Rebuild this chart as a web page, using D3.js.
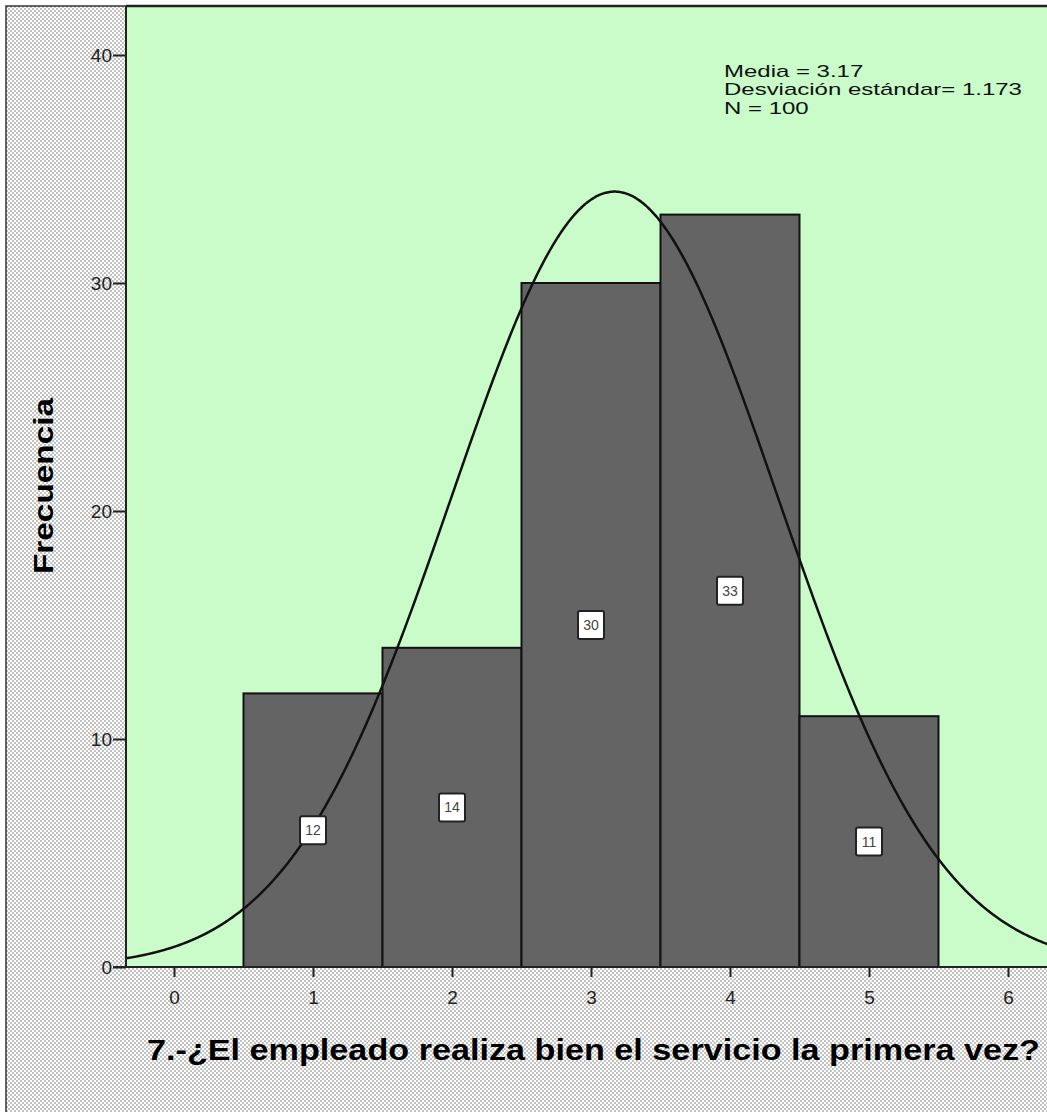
<!DOCTYPE html>
<html>
<head>
<meta charset="utf-8">
<script src="https://cdn.jsdelivr.net/npm/d3@7"></script>
<style>
	html, body { margin: 0; padding: 0; background: #fff; }
	svg { display: block; font-family: "Liberation Sans", Arial, sans-serif; }
</style>
</head>
<body>
<script>
(function() {

"use strict";

// histogram bins (value, frequency)
const BIN_CENTERS = [1, 2, 3, 4, 5];
const FREQUENCIES = [12, 14, 30, 33, 11];
const BIN_WIDTH = 1;

const X_TICKS = [0, 1, 2, 3, 4, 5, 6];
const Y_TICKS = [0, 10, 20, 30, 40];

const MEAN = 3.17;
const STD_DEV = 1.173;
const N = 100;

const STATS = [
	"Media = 3.17",
	"Desviación estándar= 1.173",
	"N = 100",
];

const X_TITLE = "7.-¿El empleado realiza bien el servicio la primera vez?";
const Y_TITLE = "Frecuencia";

const width = 1047, height = 1112;
const plot = {left: 126, top: 6, right: 1047, bottom: 967};

let svg = d3.select(document.body).append("svg")
	.attr("width", width)
	.attr("height", height);

// dotted background pattern
let defs = svg.append("defs");
let pat = defs.append("pattern")
	.attr("id", "dots")
	.attr("width", 4)
	.attr("height", 4)
	.attr("patternUnits", "userSpaceOnUse");
pat.append("rect").attr("width", 4).attr("height", 4).attr("fill", "#ffffff");
pat.append("circle").attr("cx", 1).attr("cy", 1).attr("r", 0.95).attr("fill", "#a9a9a9");
pat.append("circle").attr("cx", 3).attr("cy", 3).attr("r", 0.95).attr("fill", "#a9a9a9");

defs.append("clipPath").attr("id", "plotclip")
	.append("rect")
		.attr("x", plot.left)
		.attr("y", plot.top)
		.attr("width", plot.right - plot.left)
		.attr("height", plot.bottom - plot.top);

svg.append("rect")
	.attr("x", 6).attr("y", 6)
	.attr("width", width).attr("height", height)
	.attr("fill", "url(#dots)")
	.attr("stroke", "#333")
	.attr("stroke-width", 1.5);

let x = d3.scaleLinear()
	.domain([(plot.left - 174) / 139, (plot.right - 174) / 139])
	.range([plot.left, plot.right]);

let y = d3.scaleLinear()
	.domain([0, 40])
	.range([plot.bottom, 55]);

svg.append("rect")
	.attr("x", plot.left).attr("y", plot.top)
	.attr("width", plot.right - plot.left)
	.attr("height", plot.bottom - plot.top)
	.attr("fill", "#c9fcc9");

let chart = svg.append("g").attr("clip-path", "url(#plotclip)");

// bars
chart.selectAll("rect.bar")
	.data(BIN_CENTERS)
	.join("rect")
		.attr("class", "bar")
		.attr("x", d => x(d - BIN_WIDTH / 2))
		.attr("y", (d, i) => y(FREQUENCIES[i]))
		.attr("width", d => x(d + BIN_WIDTH / 2) - x(d - BIN_WIDTH / 2))
		.attr("height", (d, i) => y(0) - y(FREQUENCIES[i]))
		.attr("fill", "#646464")
		.attr("stroke", "#111")
		.attr("stroke-width", 2);

// fitted normal curve from the reported mean and standard deviation
let normal = v => N * BIN_WIDTH / (STD_DEV * Math.sqrt(2 * Math.PI)) *
	Math.exp(-0.5 * Math.pow((v - MEAN) / STD_DEV, 2));

let xs = d3.range(x.domain()[0], x.domain()[1] + 0.01, 0.01);

chart.append("path")
	.datum(xs)
	.attr("d", d3.line().x(d => x(d)).y(d => y(normal(d))).curve(d3.curveBasis))
	.attr("fill", "none")
	.attr("stroke", "#111")
	.attr("stroke-width", 2.5);

// value labels
let labels = chart.selectAll("g.label")
	.data(BIN_CENTERS)
	.join("g")
		.attr("class", "label")
		.attr("transform", (d, i) => `translate(${x(d)}, ${y(FREQUENCIES[i] / 2)})`);

labels.append("rect")
	.attr("x", -13).attr("y", -14)
	.attr("width", 26).attr("height", 28)
	.attr("rx", 2)
	.attr("fill", "#fff")
	.attr("stroke", "#222")
	.attr("stroke-width", 2);

labels.append("text")
	.attr("text-anchor", "middle")
	.attr("dy", "0.36em")
	.attr("font-size", 14)
	.attr("fill", "#444")
	.text((d, i) => FREQUENCIES[i]);

// frame lines
svg.append("line")
	.attr("x1", plot.left).attr("x2", plot.right)
	.attr("y1", plot.top).attr("y2", plot.top)
	.attr("stroke", "#222").attr("stroke-width", 2.5);

// axes
let yAxis = svg.append("g")
	.attr("transform", `translate(${plot.left}, 0)`)
	.call(d3.axisLeft(y).tickValues(Y_TICKS).tickFormat(d3.format("d")).tickSize(13).tickPadding(1));

yAxis.select(".domain")
	.attr("d", `M0,${plot.top}V${plot.bottom}`)
	.attr("stroke", "#222")
	.attr("stroke-width", 2);

let xAxis = svg.append("g")
	.attr("transform", `translate(0, ${plot.bottom})`)
	.call(d3.axisBottom(x).tickValues(X_TICKS).tickFormat(d3.format("d")).tickSize(10).tickPadding(14));

xAxis.select(".domain")
	.attr("d", `M${plot.left - 13},0H${plot.right}`)
	.attr("stroke", "#222")
	.attr("stroke-width", 2);

svg.selectAll(".tick line").attr("stroke", "#222").attr("stroke-width", 2);
svg.selectAll(".tick text")
	.attr("font-family", "Liberation Sans, Arial, sans-serif")
	.attr("font-size", 19)
	.attr("fill", "#222");

// axis titles
svg.append("text")
	.attr("transform", "translate(53, 486) rotate(-90)")
	.attr("text-anchor", "middle")
	.attr("font-size", 27)
	.attr("font-weight", "bold")
	.attr("fill", "#000")
	.attr("textLength", 176)
	.attr("lengthAdjust", "spacingAndGlyphs")
	.text(Y_TITLE);

svg.append("text")
	.attr("x", 147)
	.attr("y", 1060)
	.attr("font-size", 29)
	.attr("font-weight", "bold")
	.attr("fill", "#000")
	.attr("textLength", 893)
	.attr("lengthAdjust", "spacingAndGlyphs")
	.text(X_TITLE);

// statistics box (text is stretched horizontally in the original)
svg.append("g")
	.attr("transform", "translate(724, 0) scale(1.5, 1)")
	.selectAll("text")
	.data(STATS)
	.join("text")
		.attr("x", 0)
		.attr("y", (d, i) => 77 + i * 18.5)
		.attr("font-size", 16)
		.attr("fill", "#111")
		.text(d => d);

})();
</script>
</body>
</html>
